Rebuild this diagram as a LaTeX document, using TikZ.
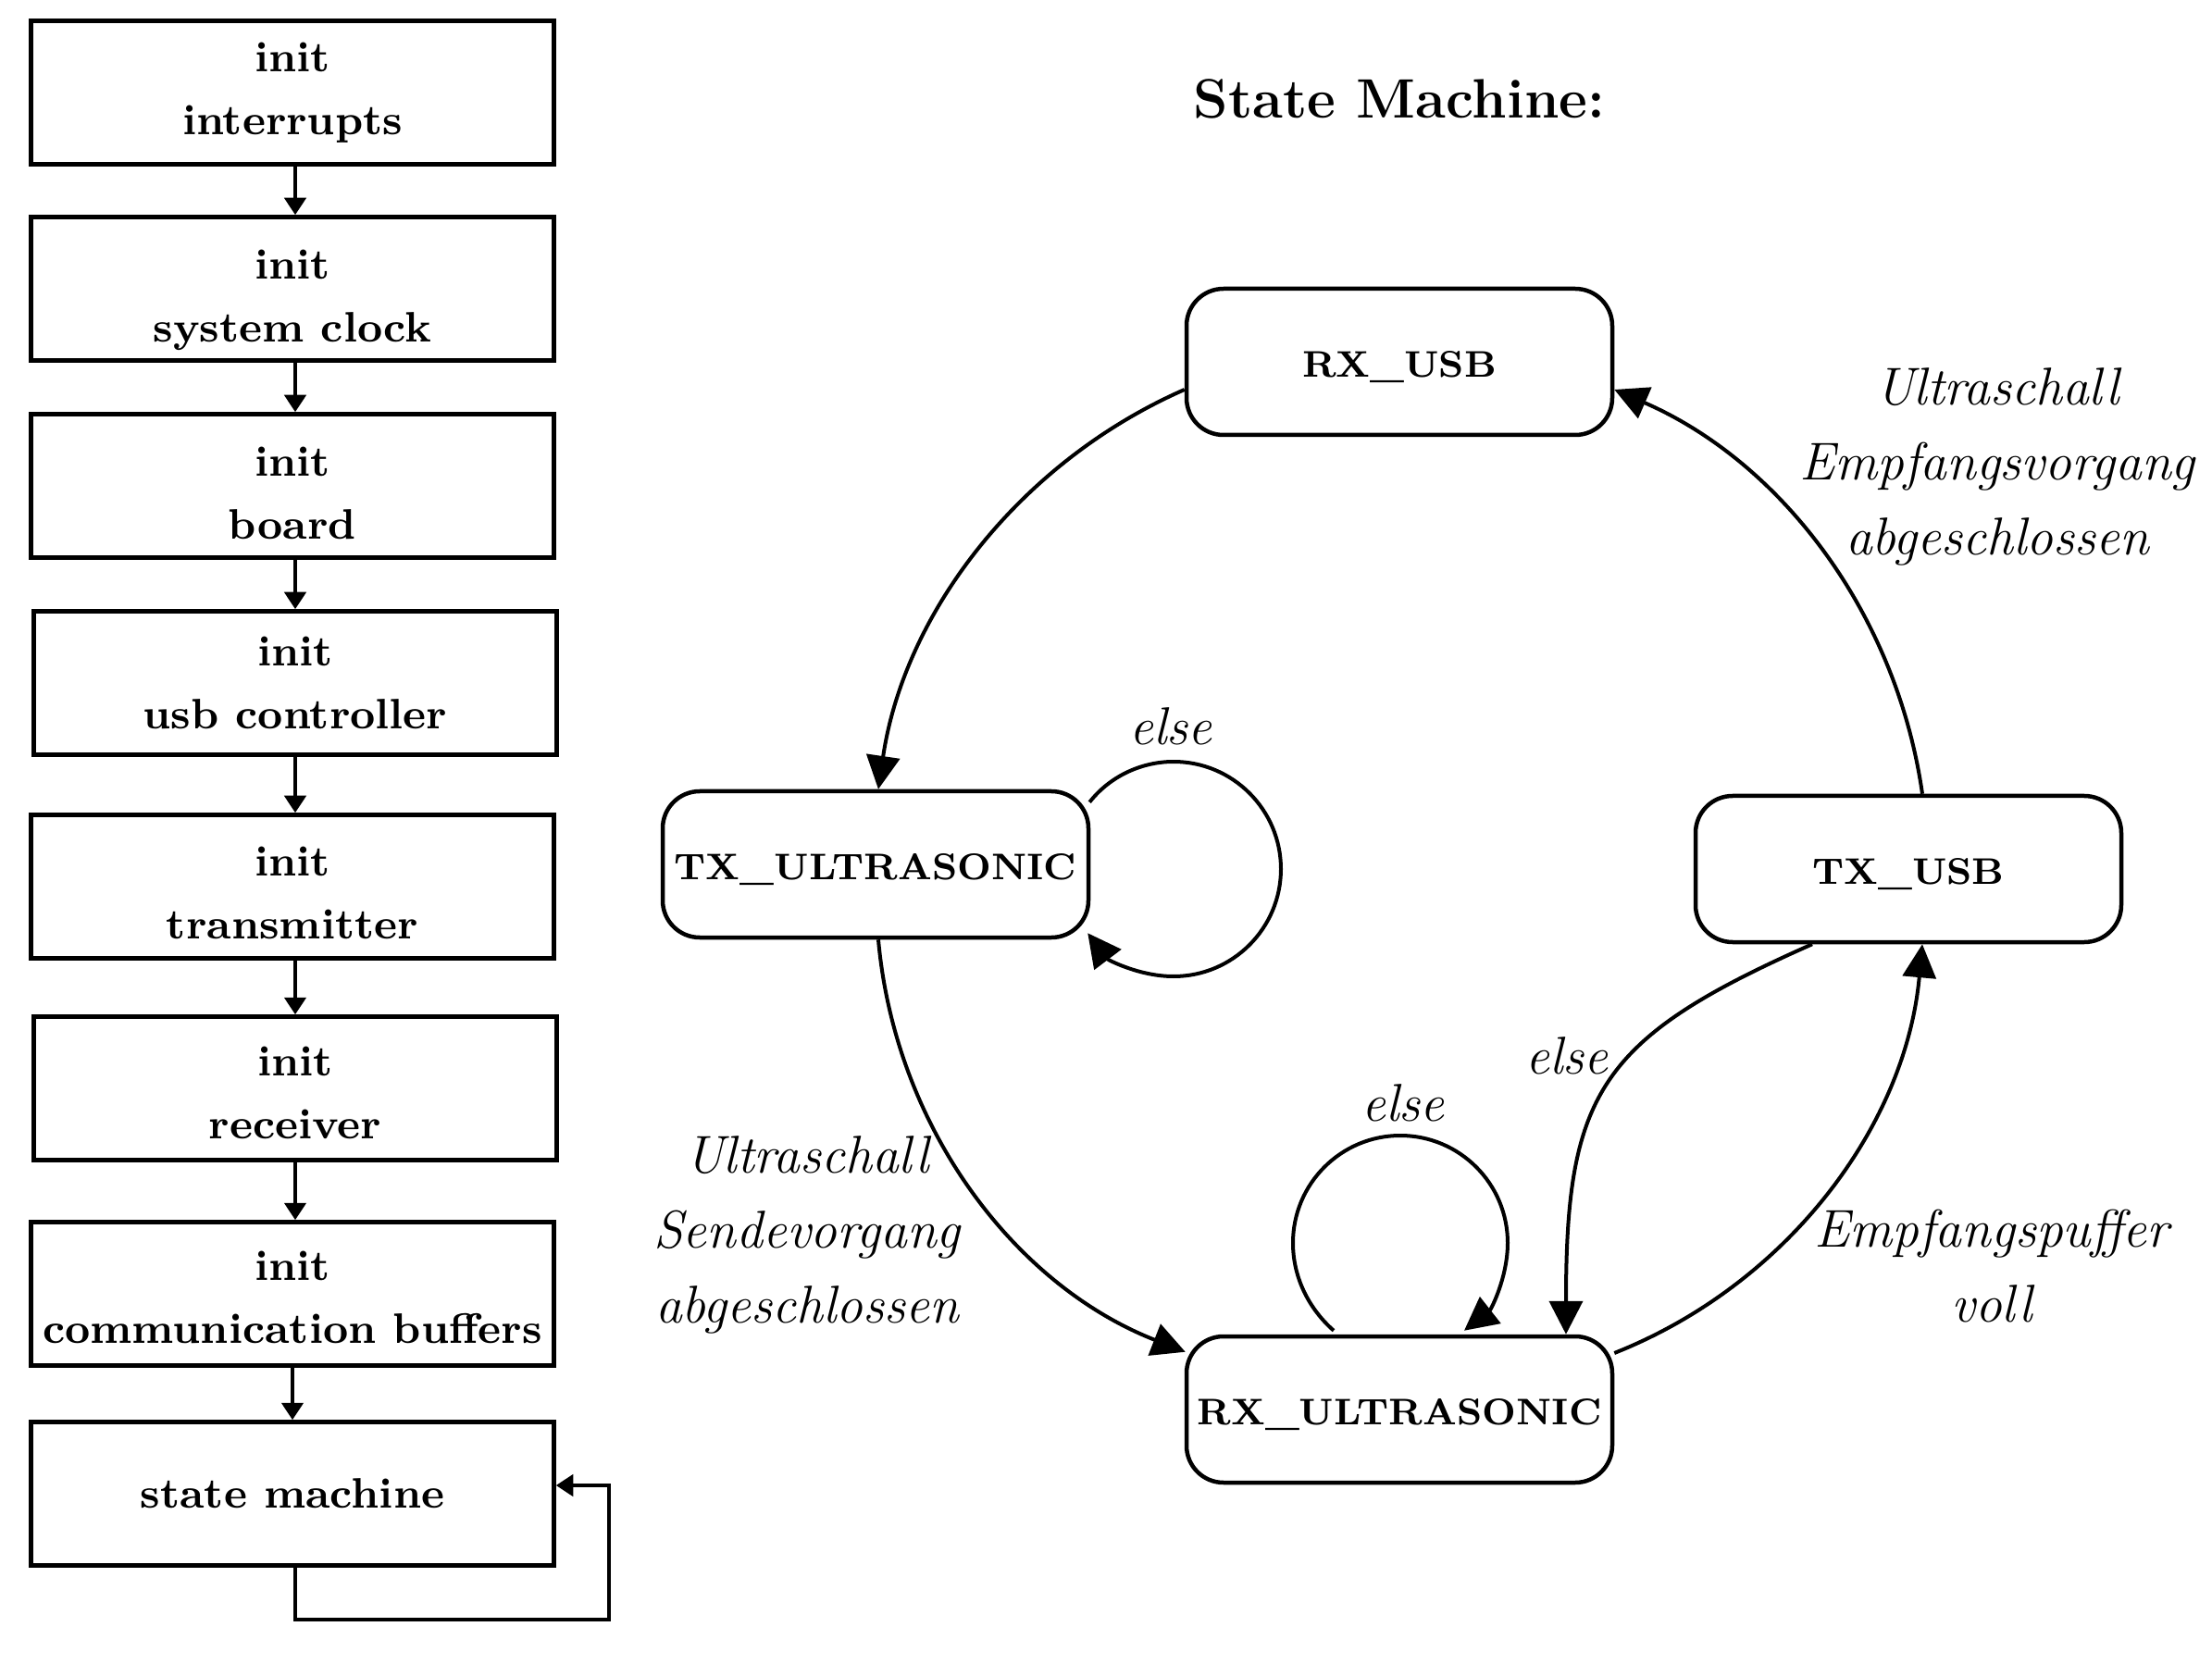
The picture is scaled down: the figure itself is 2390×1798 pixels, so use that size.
\documentclass[tikz,border=0pt]{standalone}
\usetikzlibrary{arrows.meta,calc}
\begin{document}
\begin{tikzpicture}[x=0.2pt,y=-0.2pt,
  fbox/.style={draw,line width=0.9pt,minimum width=113pt,minimum height=31pt,inner sep=0pt},
  ftext/.style={align=center,inner sep=0pt,font=\fontsize{9.2}{13.7}\selectfont\bfseries},
  farrow/.style={line width=0.9pt,-{Triangle[length=3.7pt,width=4.6pt]}},
  state/.style={draw,line width=0.9pt,rounded corners=8pt,minimum width=92pt,minimum height=31.6pt,inner sep=0pt,text height=6.7pt,text depth=0pt,font=\fontsize{8}{10}\selectfont\bfseries},
  sarrow/.style={line width=0.8pt,-{Triangle[length=7.2pt,width=7.2pt]}},
  lab/.style={font=\fontsize{11.5}{16.2}\selectfont\itshape,align=center}]

\useasboundingbox (0,0) rectangle (2390,1798);

% flowchart
\node[fbox,label={[ftext]center:{init\\interrupts}}] (b1) at (316,100) {};
\node[fbox,label={[ftext,yshift=-2.5pt]center:{init\\system clock}}] (b2) at (316,312) {};
\node[fbox,label={[ftext,yshift=-1.6pt]center:{init\\board}}] (b3) at (316,525) {};
\node[fbox,label={[ftext]center:{init\\usb controller}}] (b4) at (319,738) {};
\node[fbox,label={[ftext,yshift=-1.4pt]center:{init\\transmitter}}] (b5) at (316,958) {};
\node[fbox,label={[ftext,yshift=-1pt]center:{init\\receiver}}] (b6) at (319,1176) {};
\node[fbox,label={[ftext,yshift=-0.8pt]center:{init\\communication buffers}}] (b7) at (316,1398) {};
\node[fbox,label={[ftext]center:{state machine}}] (b8) at (316,1614) {};

\draw[farrow] (b1.south -| b4) -- (b2.north -| b4);
\draw[farrow] (b2.south -| b4) -- (b3.north -| b4);
\draw[farrow] (b3.south -| b4) -- (b4.north);
\draw[farrow] (b4.south) -- (b5.north -| b4);
\draw[farrow] (b5.south -| b4) -- (b6.north);
\draw[farrow] (b6.south) -- (b7.north -| b4);
\draw[farrow] (b7) -- (b8);
\draw[farrow] (b8.south -| b4) -- ++(0,56) -- ++(339,0) |- ($(b8.east)+(0,-9)$);

% state machine
\node[font=\fontsize{12}{14}\selectfont\bfseries] (title) at (1512,107) {State Machine:};

\node[state] (rxusb) at (1512,391) {RX\_USB};
\node[state] (txult) at (946,934) {TX\_ULTRASONIC};
\node[state] (txusb) at (2062,939) {TX\_USB};
\node[state] (rxult) at (1512,1523) {RX\_ULTRASONIC};

\draw[sarrow] ($(rxusb.west)+(0,30)$) .. controls (1102,499) and (977,662) .. ($(txult.north)+(3,0)$);
\draw[sarrow] ($(txult.south)+(3,0)$) .. controls (967,1217) and (1095,1388) .. ($(rxult.north west)+(1,19)$);
\draw[sarrow] ($(rxult.east)+(0,-61)$) .. controls (1931,1388) and (2059,1217) .. ($(txusb.south)+(15,0)$);
\draw[sarrow] ($(txusb.south)+(-104,0)$) .. controls (1728,1122) and (1692,1181) .. ($(rxult.north)+(180,0)$);
\draw[sarrow] ($(txusb.north)+(15,0)$) .. controls (2049,662) and (1924,499) .. ($(rxusb.east)+(0,30)$);

\draw[sarrow] ($(txult.north east)+(-1,14)$) .. controls (1199,839) and (1233,823) .. (1268,823)
  .. controls (1332,823) and (1384,875) .. (1384,939)
  .. controls (1384,1003) and (1332,1055) .. (1268,1055)
  .. controls (1231,1055) and (1197,1037) .. ($(txult.south east)+(-3,-7)$);

\draw[sarrow] ($(rxult.north)+(-71,-4)$) .. controls (1413,1413) and (1397,1379) .. (1397,1343)
  .. controls (1397,1279) and (1449,1227) .. (1513,1227)
  .. controls (1577,1227) and (1629,1279) .. (1629,1343)
  .. controls (1629,1380) and (1611,1415) .. ($(rxult.north)+(70,-4)$);

\node[lab] (l1) at (1265,785) {else};
\node[lab] (l2) at (1516,1192) {else};
\node[lab] (l3) at (1693,1141) {else};
\node[lab] (l4) at (872,1334) {Ultraschall\\Sendevorgang\\abgeschlossen};
\node[lab] (l5) at (2158,504) {Ultraschall\\Empfangsvorgang\\abgeschlossen};
\node[lab] (l6) at (2152,1368) {Empfangspuffer\\voll};
\end{tikzpicture}
\end{document}
